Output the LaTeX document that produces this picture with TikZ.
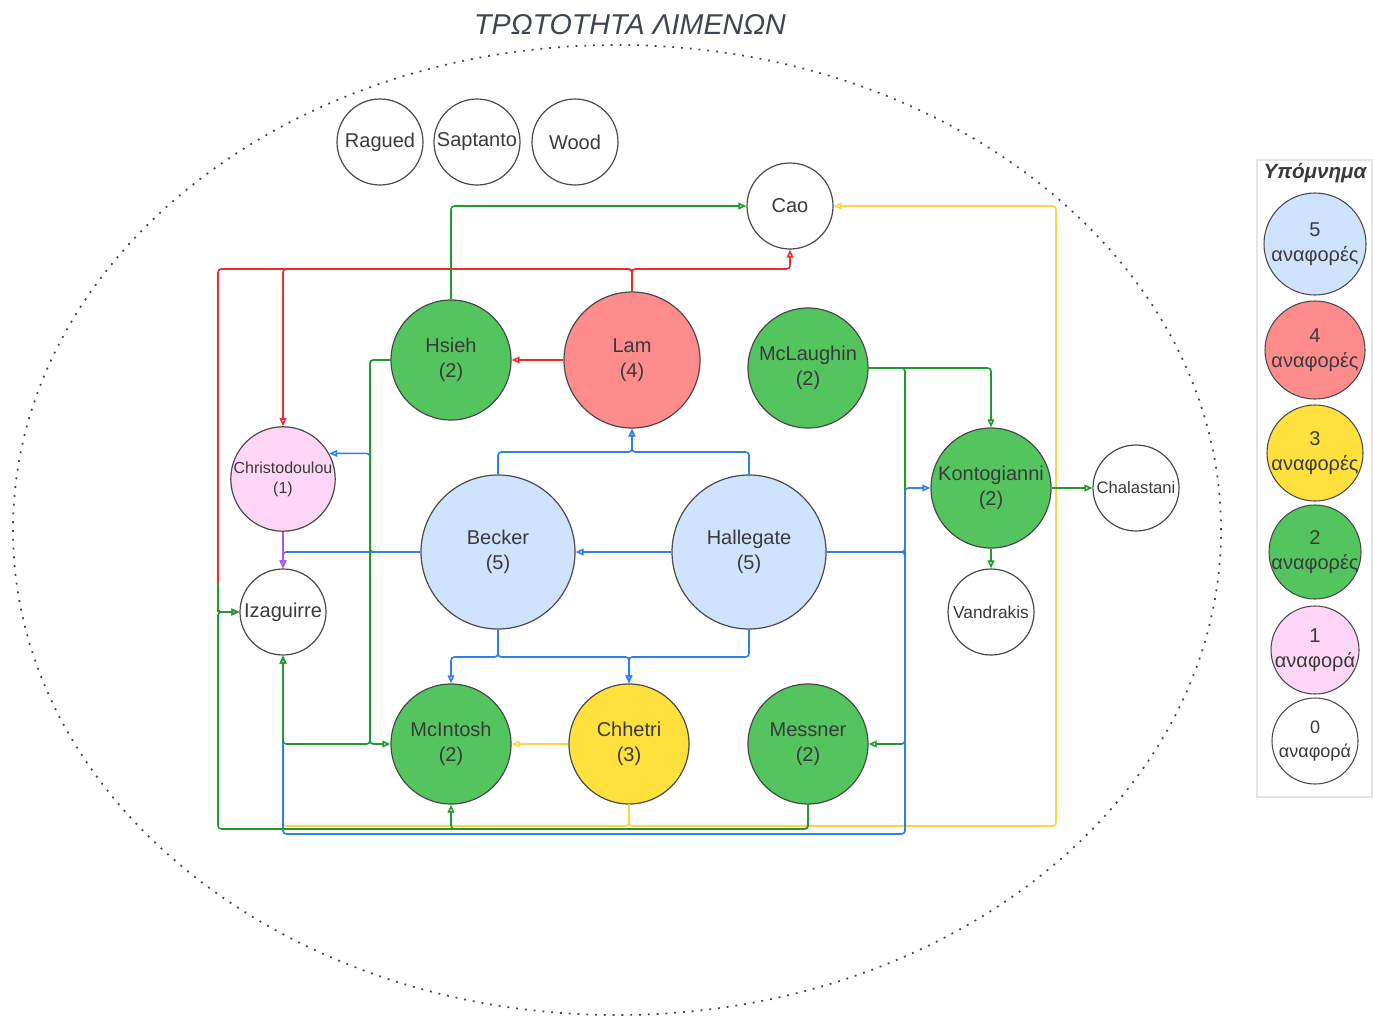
\documentclass[tikz,border=0pt]{standalone}
\usepackage{fontspec}
\setmainfont{Liberation Sans}
\usetikzlibrary{arrows.meta,shapes.geometric}
\definecolor{fblue}{HTML}{CFE3FF}
\definecolor{fred}{HTML}{FF8C8C}
\definecolor{fyel}{HTML}{FFE03D}
\definecolor{fgreen}{HTML}{54C45E}
\definecolor{fpink}{HTML}{FFD6F5}
\definecolor{lgreen}{HTML}{1F9A2F}
\definecolor{lred}{HTML}{EE2A2A}
\definecolor{lblue}{HTML}{2F7FE8}
\definecolor{lyel}{HTML}{FFD43E}
\definecolor{lpur}{HTML}{B451F5}
\definecolor{nodeline}{HTML}{4A4A4A}
\definecolor{txt}{HTML}{3A3A3A}
\definecolor{titlec}{HTML}{3D4550}
\begin{document}
\begin{tikzpicture}[x=0.75pt,y=-0.75pt,
  nd/.style={circle, draw=nodeline, line width=0.9pt, inner sep=0pt, align=center, text=txt, font=\fontsize{15}{19}\selectfont},
  bigc/.style={nd, minimum size=115.5pt},
  lamc/.style={nd, minimum size=102pt},
  midc/.style={nd, minimum size=90pt},
  chrc/.style={nd, minimum size=78pt},
  smallc/.style={nd, minimum size=64.5pt},
  lg/.style={ellipse, draw=nodeline, line width=0.8pt, inner sep=0pt},
  lgt/.style={align=center, text=txt, font=\fontsize{15}{19}\selectfont, inner sep=0pt},
  conn/.style={line width=1.2pt, rounded corners=2.5pt, -{Triangle[open,length=6pt,width=5pt]}},
  cg/.style={conn, draw=lgreen},
  cr/.style={conn, draw=lred},
  cb/.style={conn, draw=lblue},
  cy/.style={conn, draw=lyel},
  cp/.style={conn, draw=lpur}
]
\useasboundingbox (0,0) rectangle (1374,1017);
\fill[white] (0,0) rectangle (1374,1017);

% outer dotted ellipse and title
\draw[gray!55!black, line width=1.3pt, dash pattern=on 1.4pt off 5.2pt] (617,530) ellipse [x radius=453pt, y radius=363.75pt];
\node[font=\fontsize{21.5}{26}\selectfont\itshape, text=titlec] (title) at (630,25) {ΤΡΩΤΟΤΗΤΑ ΛΙΜΕΝΩΝ};

% nodes
\node[smallc] (rag) at (380,142) {Ragued};
\node[smallc] (sap) at (477,142) {Saptanto};
\node[smallc] (wood) at (575,142) {Wood};
\node[smallc] (cao) at (790,206) {Cao};
\node[midc, fill=fgreen] (hsieh) at (451,360) {Hsieh\\(2)};
\node[lamc, fill=fred] (lam) at (632,360) {Lam\\(4)};
\node[midc, fill=fgreen] (mcl) at (808,368) {McLaughin\\(2)};
\node[chrc, fill=fpink, font=\fontsize{12}{15}\selectfont] (chr) at (283,479) {Christodoulou\\(1)};
\node[bigc, fill=fblue] (becker) at (498,552) {Becker\\(5)};
\node[bigc, fill=fblue] (hall) at (749,552) {Hallegate\\(5)};
\node[midc, fill=fgreen] (kon) at (991,488) {Kontogianni\\(2)};
\node[smallc, font=\fontsize{12.5}{15}\selectfont] (cha) at (1136,488) {Chalastani};
\node[smallc, font=\fontsize{13}{15}\selectfont] (van) at (991,612) {Vandrakis};
\node[smallc] (iza) at (283,612) {Izaguirre};
\node[midc, fill=fgreen] (mci) at (451,744) {McIntosh\\(2)};
\node[midc, fill=fyel] (chh) at (629,744) {Chhetri\\(3)};
\node[midc, fill=fgreen] (mes) at (808,744) {Messner\\(2)};

% routing coordinates
\coordinate (yR) at (0,269);
\coordinate (xL) at (218,0);
\coordinate (x370) at (370,0);
\coordinate (yBT) at (0,452);
\coordinate (yBB) at (0,657);
\coordinate (x905) at (905,0);
\coordinate (yY) at (0,826);
\coordinate (yG) at (0,829);
\coordinate (yB) at (0,834);
\coordinate (xY) at (1056,0);
\coordinate (yJ) at (0,583);

% red connectors
\draw[cr] (lam.north) -- (lam.north |- yR) -| (cao.south);
\draw[cr] (lam.north) -- (lam.north |- yR) -| (chr.north);
\draw[cr] (lam.north) -- (lam.north |- yR) -| (xL |- iza.west) -- (iza.west);
\draw[cr] (lam.west) -- (hsieh.east);

% yellow connectors
\draw[cy] (chh.west) -- (mci.east);
\draw[cy] (chh.south) -- (chh.south |- yY) -| (xY |- cao.east) -- (cao.east);
\draw[cy] (chh.south) -- (chh.south |- yY) -| (iza.south);

% green under blue
\draw[cg] (mcl.east) -- (x905 |- mcl.east) |- (mes.east);

% blue connectors
\draw[cb] (becker.north) -- (becker.north |- yBT) -| (lam.south);
\draw[cb] (hall.north) -- (hall.north |- yBT) -| (lam.south);
\draw[cb] (hall.west) -- (becker.east);
\draw[cb] (becker.west) -- (x370 |- becker.west) |- (chr.29);
\draw[cb] (becker.west) -| (iza.north);
\draw[cb] (becker.south) -- (becker.south |- yBB) -| (mci.north);
\draw[cb] (becker.south) -- (becker.south |- yBB) -| (chh.north);
\draw[cb] (hall.south) -- (hall.south |- yBB) -| (chh.north);
\draw[cb] (hall.east) -- (x905 |- hall.east) |- (kon.west);
\draw[cb] (hall.east) -- (x905 |- hall.east) -- (x905 |- yB) -| (iza.south);

% green connectors
\draw[cg] (hsieh.north) |- (cao.west);
\draw[cg] (hsieh.west) -- (x370 |- hsieh.west) -- (x370 |- mci.west) -- (mci.west);
\draw[cg] (hsieh.west) -- (x370 |- hsieh.west) -- (x370 |- mci.west) -| (iza.south);
\draw[cg] (mcl.east) -| (kon.north);
\draw[cg] (kon.east) -- (cha.west);
\draw[cg] (kon.south) -- (van.north);
\draw[cg] (mes.south) -- (mes.south |- yG) -| (mci.south);
\draw[cg] (mes.south) -- (mes.south |- yG) -| (xL |- iza.west) -- (iza.west);
\draw[lgreen, line width=1.2pt] (xL |- yJ) -- (xL |- iza.west);

% purple
\draw[cp] (chr.south) -- (iza.north);

% legend
\draw[gray!20, line width=0.8pt] (1257,160) rectangle (1372,797);
\node[font=\fontsize{15.5}{18}\selectfont\bfseries\itshape, text=txt] (legt) at (1315,173) {Υπόμνημα};
\node[lg, fill=fblue, minimum width=76.5pt, minimum height=76.5pt] (l5) at (1315,244) {};
\node[lgt] (l5t) at (l5.center) {5\\αναφορές};
\node[lg, fill=fred, minimum width=75pt, minimum height=73.5pt] (l4) at (1315,350) {};
\node[lgt] (l4t) at (l4.center) {4\\αναφορές};
\node[lg, fill=fyel, minimum width=72pt, minimum height=72pt] (l3) at (1315,453) {};
\node[lgt] (l3t) at (l3.center) {3\\αναφορές};
\node[lg, fill=fgreen, minimum width=69pt, minimum height=70.5pt] (l2) at (1315,552) {};
\node[lgt] (l2t) at (l2.center) {2\\αναφορές};
\node[lg, fill=fpink, minimum width=66pt, minimum height=66pt] (l1) at (1315,650) {};
\node[lgt] (l1t) at (l1.center) {1\\αναφορά};
\node[lg, minimum width=64.5pt, minimum height=64.5pt] (l0) at (1315,741) {};
\node[lgt, font=\fontsize{13.5}{18}\selectfont] (l0t) at (l0.center) {0\\αναφορά};
\end{tikzpicture}
\end{document}
